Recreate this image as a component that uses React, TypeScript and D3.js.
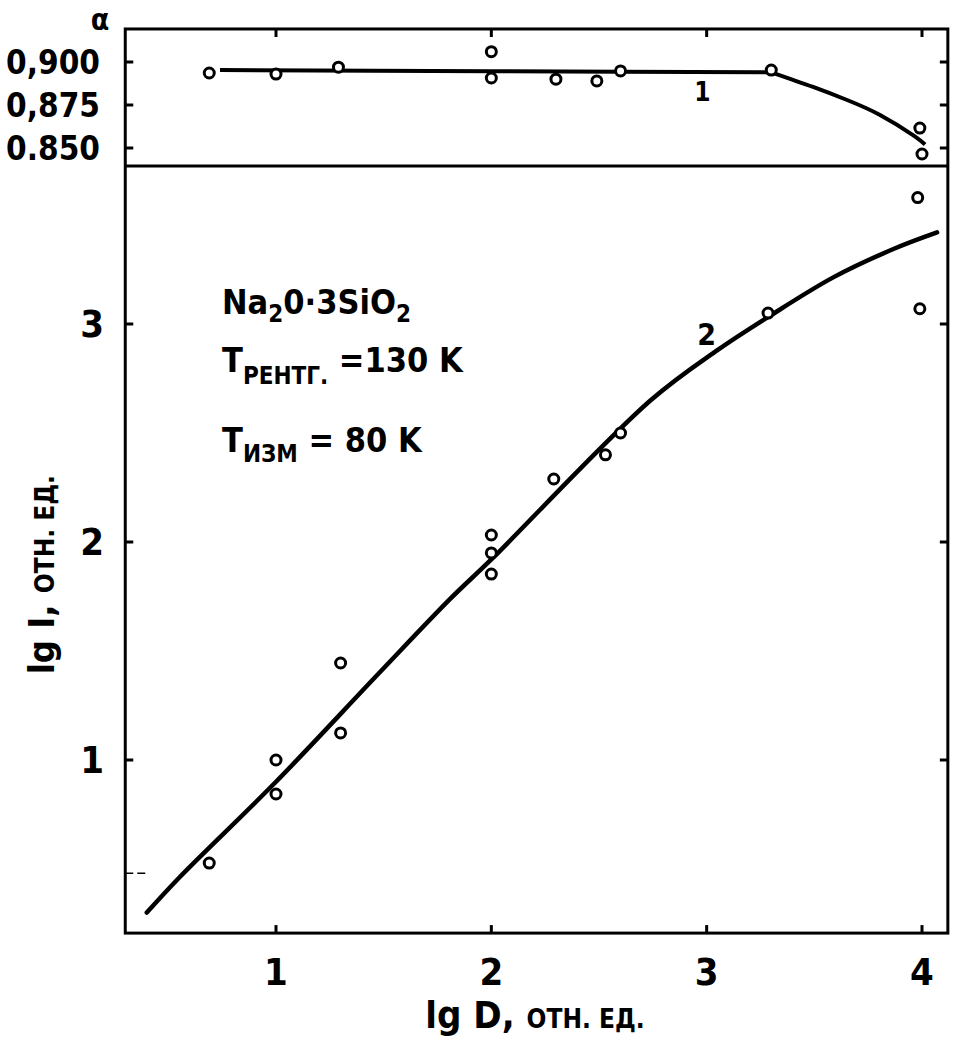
import React from "react";
import * as d3 from "d3";

// Upper panel: alpha vs lg D
const alphaPoints: [number, number][] = [
  [0.69, 0.8936], [1.0, 0.893], [1.29, 0.897], [2.0, 0.906], [2.0, 0.8907],
  [2.3, 0.89], [2.49, 0.889], [2.6, 0.8948], [3.3, 0.8953], [3.99, 0.8616], [4.0, 0.8465],
];
const alphaFlat: [number, number][] = [
  [0.74, 0.8953], [2.0, 0.8946], [3.3, 0.894],
];
const alphaDrop: [number, number][] = [
  [3.3, 0.894], [3.494, 0.8855], [3.652, 0.8779], [3.805, 0.8692], [3.958, 0.8575], [4.014, 0.852],
];
const alphaTicks = [0.9, 0.875, 0.85];
const alphaTickLabels = ["0,900", "0,875", "0.850"];

// Lower panel: lg I vs lg D
const intPoints: [number, number][] = [
  [0.69, 0.527], [1.0, 0.844], [1.0, 1.0], [1.3, 1.445], [1.3, 1.124],
  [2.0, 2.032], [2.0, 1.95], [2.0, 1.853], [2.29, 2.289], [2.53, 2.4], [2.6, 2.5],
  [3.285, 3.05], [3.98, 3.58], [3.99, 3.07],
];
const intCurve: [number, number][] = [
  [0.4, 0.3], [0.55, 0.46], [1.0, 0.9], [1.48, 1.4], [1.81, 1.74], [2.0, 1.92],
  [2.74, 2.65], [3.05, 2.88], [3.29, 3.035], [3.59, 3.215], [3.87, 3.345], [4.07, 3.42],
];
const xTicks = [1, 2, 3, 4];
const yTicks = [1, 2, 3];

const FONT = "'DejaVu Sans Condensed', 'DejaVu Sans', sans-serif";

export default function App() {
  const x = d3.scaleLinear().domain([1, 4]).range([276, 922]);
  const yL = d3.scaleLinear().domain([1, 3]).range([760, 324]);
  const yT = d3.scaleLinear().domain([0.85, 0.9]).range([148, 62]);

  const left = x(0.3), right = x(4.12);
  const top = yT(0.9192), mid = yT(0.8395), bottom = yL(0.206);

  const lineFlat = d3.line<[number, number]>().x(d => x(d[0])).y(d => yT(d[1])).curve(d3.curveMonotoneX);
  const lineDrop = d3.line<[number, number]>().x(d => x(d[0])).y(d => yT(d[1])).curve(d3.curveNatural);
  const lineL = d3.line<[number, number]>().x(d => x(d[0])).y(d => yL(d[1])).curve(d3.curveCatmullRom.alpha(0.5));

  return (
    <svg width={957} height={1042} style={{ position: "absolute", left: 0, top: 0, background: "#fff" }}
      fontFamily={FONT} fontWeight="bold">
      <rect x={0} y={0} width={957} height={1042} fill="#fff" />
      {/* frame */}
      <rect x={left} y={top} width={right - left} height={bottom - top} fill="none" stroke="#000" strokeWidth={3} />
      <line x1={left} x2={right} y1={mid} y2={mid} stroke="#000" strokeWidth={3} />

      {/* top panel ticks */}
      {xTicks.map(t => (
        <line key={"tt" + t} x1={x(t)} x2={x(t)} y1={top} y2={top + 8} stroke="#000" strokeWidth={3} />
      ))}
      {alphaTicks.map((t, i) => (
        <g key={"at" + t}>
          <line x1={left} x2={left + 8} y1={yT(t)} y2={yT(t)} stroke="#000" strokeWidth={3} />
          <line x1={right - 8} x2={right} y1={yT(t)} y2={yT(t)} stroke="#000" strokeWidth={3} />
          <text x={100} y={yT(t) + 12} textAnchor="end" fontSize={33}>{alphaTickLabels[i]}</text>
        </g>
      ))}
      <text x={100} y={30} textAnchor="middle" fontSize={30}>α</text>

      {/* lower panel ticks */}
      {xTicks.map(t => (
        <g key={"bt" + t}>
          <line x1={x(t)} x2={x(t)} y1={bottom} y2={bottom - 8} stroke="#000" strokeWidth={3} />
          <text x={x(t)} y={bottom + 52} textAnchor="middle" fontSize={38}>{t}</text>
        </g>
      ))}
      {yTicks.map(t => (
        <g key={"yt" + t}>
          <line x1={left} x2={left + 8} y1={yL(t)} y2={yL(t)} stroke="#000" strokeWidth={3} />
          <line x1={right - 8} x2={right} y1={yL(t)} y2={yL(t)} stroke="#000" strokeWidth={3} />
          <text x={104} y={yL(t) + 13} textAnchor="end" fontSize={38}>{t}</text>
        </g>
      ))}
      <line x1={left} x2={left + 20} y1={yL(0.48)} y2={yL(0.48)} stroke="#000" strokeWidth={1.5} strokeDasharray="8 4" />

      {/* curves */}
      <path d={lineFlat(alphaFlat) || ""} fill="none" stroke="#000" strokeWidth={4} />
      <path d={lineDrop(alphaDrop) || ""} fill="none" stroke="#000" strokeWidth={4} />
      <path d={lineL(intCurve) || ""} fill="none" stroke="#000" strokeWidth={4.5} strokeLinecap="round" />

      {/* points */}
      {alphaPoints.map((p, i) => (
        <circle key={"ap" + i} cx={x(p[0])} cy={yT(p[1])} r={5} fill="#fff" stroke="#000" strokeWidth={3} />
      ))}
      {intPoints.map((p, i) => (
        <circle key={"ip" + i} cx={x(p[0])} cy={yL(p[1])} r={5} fill="#fff" stroke="#000" strokeWidth={3} />
      ))}

      {/* curve labels */}
      <text x={x(2.98)} y={yT(0.883) + 10} textAnchor="middle" fontSize={26}>1</text>
      <text x={x(3.0)} y={yL(2.96) + 12} textAnchor="middle" fontSize={30}>2</text>

      {/* annotation */}
      <text x={222} y={314} fontSize={34}>
        Na<tspan fontSize={24} dy={8}>2</tspan><tspan dy={-8}>0·3SiO</tspan><tspan fontSize={24} dy={8}>2</tspan>
      </text>
      <text x={222} y={372} fontSize={34}>
        T<tspan fontSize={24} dy={12}>РЕНТГ.</tspan><tspan dy={-12}> =130 K</tspan>
      </text>
      <text x={222} y={452} fontSize={34}>
        T<tspan fontSize={24} dy={10}>ИЗМ</tspan><tspan dy={-10}> = 80 K</tspan>
      </text>

      {/* axis titles */}
      <text x={535} y={1028} textAnchor="middle" fontSize={38}>
        lg D, <tspan fontSize={26}>ОТН. ЕД.</tspan>
      </text>
      <text transform={`translate(54, ${yL(1.85)}) rotate(-90)`} textAnchor="middle" fontSize={36}>
        lg I, <tspan fontSize={26}>ОТН. ЕД.</tspan>
      </text>
    </svg>
  );
}
